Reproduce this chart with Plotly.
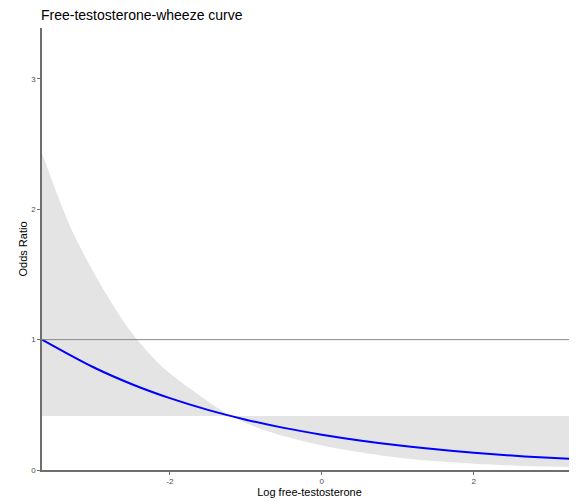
import plotly.graph_objects as go

# Data
curve_x = [-3.684, -3.0, -2.5, -2.0, -1.5, -1.0, -0.5, 0.0, 0.5, 1.0, 1.5, 2.0, 2.5, 3.0, 3.3]
curve_or = [1.0, 0.786, 0.658, 0.551, 0.461, 0.386, 0.323, 0.271, 0.227, 0.190, 0.159, 0.133, 0.111, 0.093, 0.084]

ribbon_x = [-3.684, -3.3, -2.9, -2.5, -2.1, -1.7, -1.2, -0.7, -0.2, 0.3, 0.8, 1.4, 2.0, 2.6, 3.3]
ribbon_edge = [2.43, 1.85, 1.41, 1.05, 0.79, 0.61, 0.415, 0.295, 0.215, 0.155, 0.11, 0.072, 0.048, 0.033, 0.023]
ribbon_band = 0.414

ref_or = 1.0
x_ticks = [-2, 0, 2]
y_ticks = [0, 1, 2, 3]

# browser body margin offsets the figure by 8px (left and top)
W, H, OFF = 577, 502, 8
FONT = "Liberation Sans, Arial, sans-serif"

fig = go.Figure()
fig.add_trace(go.Scatter(x=ribbon_x, y=[ribbon_band] * len(ribbon_x), mode="lines",
                         line=dict(width=0, color="rgba(0,0,0,0)"), hoverinfo="skip", showlegend=False))
fig.add_trace(go.Scatter(x=ribbon_x, y=ribbon_edge, mode="lines",
                         line=dict(width=0, color="rgba(0,0,0,0)", shape="spline", smoothing=0.8),
                         fill="tonexty", fillcolor="#e4e4e4", hoverinfo="skip", showlegend=False))
fig.add_hline(y=ref_or, line=dict(color="#8a8a8a", width=1))
fig.add_trace(go.Scatter(x=curve_x, y=curve_or, mode="lines", line=dict(color="#0000ff", width=2, shape="spline"),
                         showlegend=False))

axis_font = dict(family=FONT, size=8, color="#4d4d4d")
fw, fh = W - OFF, H - OFF
fig.update_layout(
    width=fw, height=fh,
    margin=dict(l=42 - OFF, r=0, t=28 - OFF, b=32),
    plot_bgcolor="white", paper_bgcolor="white",
    title=dict(text="Free-testosterone-wheeze curve", x=(41 - OFF) / fw, xanchor="left",
               y=1 - (15 - OFF) / fh, yanchor="middle",
               font=dict(family=FONT, size=14, color="black")),
    xaxis=dict(range=[-3.684, 3.36], tickvals=x_ticks, ticktext=[str(v) for v in x_ticks],
               showgrid=False, zeroline=False, showline=True, linecolor="#6e6e6e", linewidth=1.5,
               ticks="outside", ticklen=3, tickcolor="#6e6e6e", tickfont=axis_font, automargin=False,
               title=dict(text="Log free-testosterone", standoff=3,
                          font=dict(family=FONT, size=11, color="black"))),
    yaxis=dict(range=[0, 3.39], tickvals=y_ticks, ticktext=[str(v) for v in y_ticks],
               showgrid=False, zeroline=False, showline=True, linecolor="#6e6e6e", linewidth=1.5,
               ticks="outside", ticklen=3, tickcolor="#6e6e6e", tickfont=axis_font, automargin=False,
               title=dict(text="Odds Ratio", standoff=1,
                          font=dict(family=FONT, size=11, color="black"))),
)
fig.write_html("out.html")
